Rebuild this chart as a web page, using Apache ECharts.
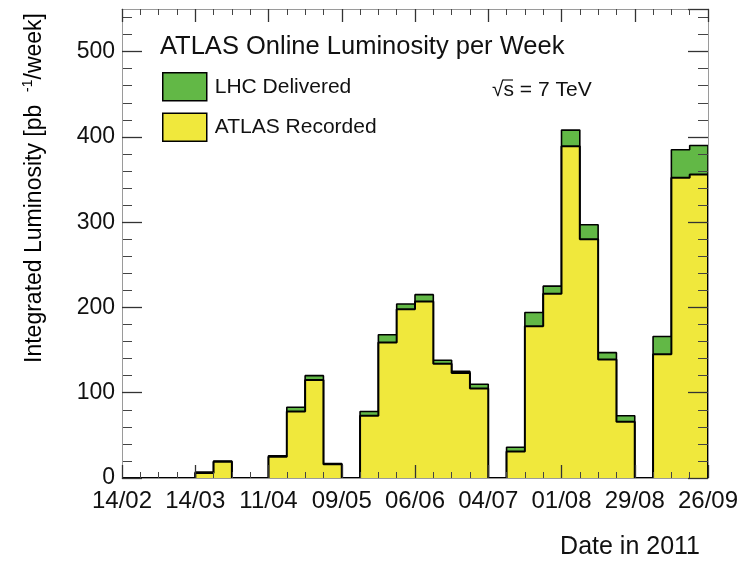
<!DOCTYPE html>
<html>
<head>
<meta charset="utf-8">
<script src="https://cdn.jsdelivr.net/npm/echarts@6.0.0/dist/echarts.min.js"></script>
<style>
html,body{margin:0;padding:0;background:#fff;}
#chart{width:754px;height:565px;}
</style>
</head>
<body>
<div id="chart"></div>
<script>
// Week bins starting 14/02/2011, one bin per week
var tickLabels = ['14/02','14/03','11/04','09/05','06/06','04/07','01/08','29/08','26/09'];
var lhcDelivered = [0,0,0,0,7,20,0,0,26,83,120,17,0,78,168,204,215,138,125,110,0,36,194,225,408,297,147,73,0,166,385,390];
var atlasRecorded = [0,0,0,0,6,19,0,0,25,78,115,16,0,73,159,198,207,134,123,105,0,31,178,216,389,280,139,66,0,145,352,356];

var FONT = 'Liberation Sans, Arial, sans-serif';
var GREEN = '#62b846';
var YELLOW = '#f0e83c';

function stepData(vals) {
  var d = [];
  for (var i = 0; i < vals.length; i++) d.push([i, vals[i]]);
  d.push([vals.length, vals[vals.length - 1]]);
  d.push([vals.length, 0]);
  return d;
}
var nBins = lhcDelivered.length;

var chart = echarts.init(document.getElementById('chart'), null, {renderer: 'canvas'});

var gridRect = {left: 122, right: 46, top: 9, bottom: 87, containLabel: false};

var xCommon = {
  type: 'value', min: 0, max: nBins, interval: 4, z: 10, gridIndex: 0,
  axisLine: {show: true, onZero: false, lineStyle: {color: '#9a9a9a', width: 1}},
  axisTick: {show: true, inside: true, length: 13, lineStyle: {color: '#333', width: 1.3}},
  minorTick: {show: true, splitNumber: 4, length: 6, lineStyle: {color: '#444', width: 1}},
  splitLine: {show: false}
};
var yMajor = {
  type: 'value', min: 0, max: 550, interval: 100, z: 10, gridIndex: 0,
  axisLine: {show: true, onZero: false, lineStyle: {color: '#9a9a9a', width: 1}},
  axisTick: {show: true, inside: true, length: 20, lineStyle: {color: '#333', width: 1.3}},
  splitLine: {show: false}
};
var yMinor = {
  type: 'value', min: 0, max: 550, interval: 20, z: 9, gridIndex: 1,
  axisLine: {show: false},
  axisTick: {show: true, inside: true, length: 10, lineStyle: {color: '#444', width: 1}},
  axisLabel: {show: false},
  splitLine: {show: false}
};

var option = {
  animation: false,
  backgroundColor: '#fff',
  textStyle: {fontFamily: FONT},
  grid: [Object.assign({}, gridRect), Object.assign({}, gridRect)],
  title: {
    text: 'ATLAS Online Luminosity per Week',
    left: 160, top: 34, padding: 0,
    textStyle: {fontFamily: FONT, fontSize: 25.5, fontWeight: 'normal', color: '#111'}
  },
  legend: {
    orient: 'vertical', left: 162, top: 72, itemWidth: 44, itemHeight: 28, itemGap: 11,
    padding: 0,
    icon: 'rect',
    itemStyle: {borderColor: '#000', borderWidth: 1.5},
    textStyle: {fontFamily: FONT, fontSize: 21, color: '#111', padding: [0, 0, 0, 3]},
    data: ['LHC Delivered', 'ATLAS Recorded']
  },
  xAxis: [
    Object.assign({}, xCommon, {
      position: 'bottom',
      axisLabel: {
        show: true, margin: 11, fontFamily: FONT, fontSize: 24, color: '#111',
        showMinLabel: true, showMaxLabel: true,
        formatter: function (v) { return tickLabels[Math.round(v / 4)] || ''; }
      }
    }),
    Object.assign({}, xCommon, {position: 'top', axisLabel: {show: false}}),
    {
      type: 'value', min: 0, max: nBins, gridIndex: 1, show: false
    }
  ],
  yAxis: [
    Object.assign({}, yMajor, {
      position: 'left',
      axisLabel: {show: true, margin: 7, fontFamily: FONT, fontSize: 23, color: '#111', showMaxLabel: false}
    }),
    Object.assign({}, yMajor, {position: 'right', axisLabel: {show: false}}),
    Object.assign({}, yMinor, {position: 'left'}),
    Object.assign({}, yMinor, {position: 'right'})
  ],
  series: [
    {
      name: 'LHC Delivered', type: 'line', step: 'end', xAxisIndex: 0, yAxisIndex: 0,
      data: stepData(lhcDelivered), symbol: 'none', z: 2,
      itemStyle: {color: GREEN},
      lineStyle: {color: '#000', width: 1.6},
      areaStyle: {color: GREEN, opacity: 1}
    },
    {
      name: 'ATLAS Recorded', type: 'line', step: 'end', xAxisIndex: 0, yAxisIndex: 0,
      data: stepData(atlasRecorded), symbol: 'none', z: 3,
      itemStyle: {color: YELLOW},
      lineStyle: {color: '#000', width: 2},
      areaStyle: {color: YELLOW, opacity: 1}
    }
  ],
  graphic: [
    {
      type: 'text', x: 492, y: 90,
      style: {text: '\u221As = 7 TeV', font: '21px ' + FONT, fill: '#111', verticalAlign: 'middle', align: 'left'}
    },
    {
      type: 'line', shape: {x1: 503, y1: 80, x2: 513, y2: 80},
      style: {stroke: '#111', lineWidth: 1.2}
    },
    {
      type: 'text', x: 700, y: 547,
      style: {text: 'Date in 2011', font: '25px ' + FONT, fill: '#111', verticalAlign: 'middle', align: 'right'}
    },
    {
      type: 'text', x: 35, y: 13, rotation: Math.PI / 2,
      style: {
        text: '{m|Integrated Luminosity [pb  }{s|-1}{m|/week]}',
        align: 'right', verticalAlign: 'middle',
        rich: {
          m: {fontFamily: FONT, fontSize: 23, color: '#111', lineHeight: 28},
          s: {fontFamily: FONT, fontSize: 14, color: '#111', verticalAlign: 'top', lineHeight: 28, padding: [0, 0, 10, 0]}
        }
      }
    }
  ]
};
chart.setOption(option);
</script>
</body>
</html>
